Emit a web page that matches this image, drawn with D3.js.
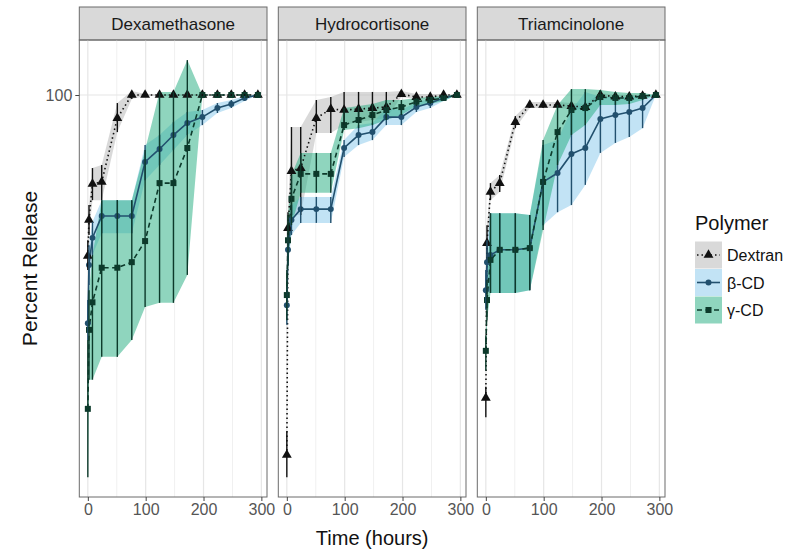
<!DOCTYPE html>
<html>
<head>
<meta charset="utf-8">
<script src="https://cdnjs.cloudflare.com/ajax/libs/d3/7.8.5/d3.min.js"></script>
<style>
  body { margin: 0; background: #fff; }
  svg { font-family: "Liberation Sans", Arial, Helvetica, sans-serif; }
</style>
</head>
<body>
<svg id="chart" width="788" height="553"></svg>
<script>
// sampling times (hours), shared by every series
var times = [0, 2, 8, 24, 51, 76, 99, 124, 148, 172, 198, 224, 248, 271, 294];
var drugs = ["Dexamethasone", "Hydrocortisone", "Triamcinolone"];
var polymers = ["Dextran", "\u03b2-CD", "\u03b3-CD"];
var xTicks = [0, 100, 200, 300];
var xMinor = [50, 150, 250];
var yTicks = [100];

// Dexamethasone
var dexDextran   = [41.4, 50.4, 61.4, 62.1, 88.1, 100, 100, 100, 100, 100, 100, 100, 100, 100, 100];
var dexDextranLo = [38.3, 46.4, 56.2, 56.2, 81.6, 97.8, 99.4, 99.4, 99.4, 99.4, 99.4, 99.4, 99.4, 99.4, 100];
var dexDextranHi = [45.1, 54.7, 67.0, 68.1, 95.7, 102.2, 100.6, 100.6, 100.6, 100.6, 100.6, 100.6, 100.6, 100.6, 100];
var dexBeta   = [28.6, 39.4, 45.7, 51.5, 51.5, 51.5, 69.3, 74.4, 80.3, 85.8, 88.6, 93.1, 95.2, 98.4, 100];
var dexBetaLo = [26.1, 35.3, 41.6, 46.9, 46.9, 46.9, 62.7, 68.1, 74.0, 80.3, 84.8, 90.6, 93.1, 96.8, 100];
var dexBetaHi = [32.5, 43.9, 49.9, 56.2, 56.2, 56.2, 76.0, 80.3, 86.2, 91.1, 92.1, 95.7, 97.3, 99.5, 100];
var dexGamma   = [17.9, 27.6, 32.1, 38.8, 38.8, 40.0, 44.9, 61.7, 61.7, 74.8, 100, 100, 100, 100, 100];
var dexGammaLo = [12.3, 21.0, 21.0, 23.8, 23.8, 26.1, 31.3, 32.0, 32.0, 37.3, 100, 100, 100, 100, 100];
var dexGammaHi = [26.1, 34.3, 41.6, 56.2, 56.2, 56.2, 74.0, 101.7, 101.7, 121.1, 100, 100, 100, 100, 100];

// Hydrocortisone
var hydDextran   = [13.9, 48.2, 65.9, 67.0, 88.1, 92.6, 92.1, 92.6, 93.1, 93.6, 100.5, 98.9, 98.9, 100, 100];
var hydDextranLo = [12.3, 43.9, 51.8, 51.8, 81.2, 81.2, 84.8, 86.2, 87.2, 88.1, 98.9, 97.8, 97.8, 99.5, 100];
var hydDextranHi = [15.8, 52.6, 83.9, 83.9, 97.3, 98.9, 101.7, 101.7, 101.7, 101.7, 102.2, 100.5, 100.5, 100.5, 100];
var hydBeta   = [31.6, 42.8, 50.4, 53.5, 53.5, 53.5, 74.8, 80.3, 81.6, 88.6, 88.6, 93.6, 95.7, 98.4, 100];
var hydBetaLo = [28.4, 39.4, 46.4, 49.6, 49.6, 49.6, 71.2, 76.0, 78.1, 84.8, 84.8, 91.1, 93.1, 96.8, 100];
var hydBetaHi = [34.3, 46.4, 54.7, 57.2, 57.2, 57.2, 78.1, 84.8, 85.8, 93.1, 92.1, 96.2, 97.8, 99.5, 100];
var hydGamma   = [33.4, 45.1, 56.6, 64.9, 64.9, 64.9, 84.8, 87.2, 89.6, 92.1, 93.6, 96.4, 97.3, 98.4, 100];
var hydGammaLo = [29.1, 39.4, 49.0, 58.5, 58.5, 58.5, 82.5, 83.4, 84.8, 87.2, 89.6, 94.1, 95.2, 96.8, 100];
var hydGammaHi = [38.3, 51.8, 64.5, 72.8, 72.8, 72.8, 93.1, 94.1, 95.2, 97.3, 97.3, 98.4, 98.9, 99.5, 100];

// Triamcinolone
var triDextran   = [19.0, 44.4, 58.8, 61.7, 86.2, 94.7, 94.7, 94.7, 94.1, 93.6, 100, 99.1, 99.1, 99.5, 100];
var triDextranLo = [17.1, 40.5, 56.2, 58.8, 83.4, 93.1, 93.1, 93.1, 92.6, 92.1, 98.9, 97.8, 97.8, 98.9, 100];
var triDextranHi = [20.2, 49.0, 61.7, 64.5, 89.1, 96.2, 96.2, 96.2, 95.7, 95.2, 101.1, 100, 100, 100, 100];
var triBeta   = [34.3, 40.0, 41.6, 42.8, 42.8, 43.2, 62.1, 65.2, 72.4, 74.8, 87.7, 89.6, 91.1, 93.1, 100];
var triBetaLo = [30.8, 35.3, 33.8, 33.8, 33.8, 34.3, 49.0, 52.6, 54.7, 61.1, 72.8, 76.9, 79.4, 83.4, 100];
var triBetaHi = [38.3, 45.1, 52.3, 52.3, 52.3, 51.8, 76.0, 78.1, 92.1, 101.7, 98.9, 98.9, 98.9, 100, 100];
var triGamma   = [24.6, 32.5, 40.5, 42.8, 42.8, 43.2, 62.1, 81.6, 92.1, 93.1, 98.9, 98.4, 98.4, 99.5, 100];
var triGammaLo = [22.1, 29.1, 33.8, 33.8, 33.8, 34.3, 47.7, 68.1, 80.3, 84.8, 94.7, 94.7, 95.2, 97.3, 100];
var triGammaHi = [26.8, 36.3, 52.3, 52.3, 52.3, 51.8, 78.1, 94.7, 103.3, 103.3, 102.8, 101.7, 101.1, 101.1, 100];

var panelSeries = [
  [[dexDextran, dexDextranLo, dexDextranHi], [dexBeta, dexBetaLo, dexBetaHi], [dexGamma, dexGammaLo, dexGammaHi]],
  [[hydDextran, hydDextranLo, hydDextranHi], [hydBeta, hydBetaLo, hydBetaHi], [hydGamma, hydGammaLo, hydGammaHi]],
  [[triDextran, triDextranLo, triDextranHi], [triBeta, triBetaLo, triBetaHi], [triGamma, triGammaLo, triGammaHi]]
];

var fills = ["#b3b3b3", "#85c7eb", "#1fab7d"],
    strokes = ["#111111", "#22506e", "#0d3a2b"],
    dashes = ["1.5,3", null, "5,3.5"],
    symbols = [d3.symbolTriangle, d3.symbolCircle, d3.symbolSquare],
    symSizes = [42, 28, 36];

var svg = d3.select("#chart"),
    panelLeft = [79.3, 278.3, 477.3],
    PANEL_W = 187.7,
    STRIP_TOP = 7,
    TOP = 40,
    BOTTOM = 497;

var xScale = d3.scaleLinear().domain([-14.75, 309.75]).range([0, PANEL_W]),
    yScale = d3.scaleLog().domain([11.04, 135.2]).range([BOTTOM, TOP]);

function rows(s) {
  return times.map(function(t, i) { return { t: t, v: s[0][i], lo: s[1][i], hi: s[2][i] }; });
}

drugs.forEach(function(drug, p) {
  var g = svg.append("g").attr("transform", "translate(" + panelLeft[p] + ",0)");

  // strip
  g.append("rect").attr("x", 0).attr("y", STRIP_TOP).attr("width", PANEL_W).attr("height", TOP - STRIP_TOP)
    .attr("fill", "#d9d9d9").attr("stroke", "#6b6b6b").attr("stroke-width", 1);
  g.append("text").attr("x", PANEL_W / 2).attr("y", (STRIP_TOP + TOP) / 2 + 6)
    .attr("text-anchor", "middle").attr("font-size", 17).attr("fill", "#1a1a1a").text(drug);

  // grid
  g.selectAll(".minor").data(xMinor).enter().append("line")
    .attr("x1", xScale).attr("x2", xScale).attr("y1", TOP).attr("y2", BOTTOM)
    .attr("stroke", "#f0f0f0").attr("stroke-width", 1);
  g.selectAll(".major").data(xTicks).enter().append("line")
    .attr("x1", xScale).attr("x2", xScale).attr("y1", TOP).attr("y2", BOTTOM)
    .attr("stroke", "#e6e6e6").attr("stroke-width", 1.2);
  g.selectAll(".hmajor").data(yTicks).enter().append("line")
    .attr("x1", 0).attr("x2", PANEL_W).attr("y1", yScale).attr("y2", yScale)
    .attr("stroke", "#e6e6e6").attr("stroke-width", 1.2);

  var series = panelSeries[p].map(rows);

  // ribbons
  var area = d3.area().x(function(d) { return xScale(d.t); })
    .y0(function(d) { return yScale(d.lo); }).y1(function(d) { return yScale(d.hi); });
  series.forEach(function(s, k) {
    g.append("path").attr("d", area(s)).attr("fill", fills[k]).attr("fill-opacity", 0.5);
  });

  // lines
  var lineGen = d3.line().x(function(d) { return xScale(d.t); }).y(function(d) { return yScale(d.v); });
  series.forEach(function(s, k) {
    g.append("path").attr("d", lineGen(s)).attr("fill", "none")
      .attr("stroke", strokes[k]).attr("stroke-width", 1.6)
      .attr("stroke-dasharray", dashes[k]);
  });

  // points
  series.forEach(function(s, k) {
    g.selectAll(".pt" + k).data(s).enter().append("path")
      .attr("d", d3.symbol().type(symbols[k]).size(symSizes[k]))
      .attr("transform", function(d) { return "translate(" + xScale(d.t) + "," + yScale(d.v) + ")"; })
      .attr("fill", strokes[k]);
  });

  // error bars
  series.forEach(function(s, k) {
    g.selectAll(".eb" + k).data(s).enter().append("line")
      .attr("x1", function(d) { return xScale(d.t); }).attr("x2", function(d) { return xScale(d.t); })
      .attr("y1", function(d) { return yScale(d.lo); }).attr("y2", function(d) { return yScale(d.hi); })
      .attr("stroke", strokes[k]).attr("stroke-width", 1.4);
  });

  // border
  g.append("rect").attr("x", 0).attr("y", TOP).attr("width", PANEL_W).attr("height", BOTTOM - TOP)
    .attr("fill", "none").attr("stroke", "#6b6b6b").attr("stroke-width", 1);

  // x axis
  var xAxis = g.append("g").attr("transform", "translate(0," + BOTTOM + ")")
    .call(d3.axisBottom(xScale).tickValues(xTicks).tickSize(4).tickPadding(3).tickFormat(d3.format("d")));
  xAxis.select(".domain").remove();
  xAxis.selectAll("line").attr("stroke", "#444");
  xAxis.selectAll("text").attr("font-size", 16).attr("fill", "#555").attr("font-family", null);
});

// y axis
var yAxis = svg.append("g").attr("transform", "translate(" + panelLeft[0] + ",0)")
  .call(d3.axisLeft(yScale).tickValues(yTicks).tickSize(4).tickPadding(3).tickFormat(d3.format("d")));
yAxis.select(".domain").remove();
yAxis.selectAll("line").attr("stroke", "#444");
yAxis.selectAll("text").attr("font-size", 16).attr("fill", "#555").attr("font-family", null);

// axis titles
svg.append("text").attr("x", (panelLeft[0] + panelLeft[2] + PANEL_W) / 2).attr("y", 545)
  .attr("text-anchor", "middle").attr("font-size", 20).attr("fill", "#111").text("Time (hours)");
svg.append("text").attr("transform", "translate(37," + (TOP + BOTTOM) / 2 + ") rotate(-90)")
  .attr("text-anchor", "middle").attr("font-size", 21).attr("fill", "#111").text("Percent Release");

// legend
var leg = svg.append("g").attr("transform", "translate(695,0)");
leg.append("text").attr("x", 0).attr("y", 230).attr("font-size", 20).attr("fill", "#111").text("Polymer");
polymers.forEach(function(name, k) {
  var cy = 255 + k * 27.5;
  var key = leg.append("g").attr("transform", "translate(0," + (cy - 13.5) + ")");
  key.append("rect").attr("width", 27).attr("height", 27).attr("fill", fills[k]).attr("fill-opacity", 0.5);
  key.append("line").attr("x1", 2).attr("x2", 25).attr("y1", 13.5).attr("y2", 13.5)
    .attr("stroke", strokes[k]).attr("stroke-width", 1.6).attr("stroke-dasharray", dashes[k]);
  key.append("path").attr("d", d3.symbol().type(symbols[k]).size(symSizes[k]))
    .attr("transform", "translate(13.5,13.5)").attr("fill", strokes[k]);
  leg.append("text").attr("x", 32).attr("y", cy + 6).attr("font-size", 16).attr("fill", "#111").text(name);
});
</script>
</body>
</html>
